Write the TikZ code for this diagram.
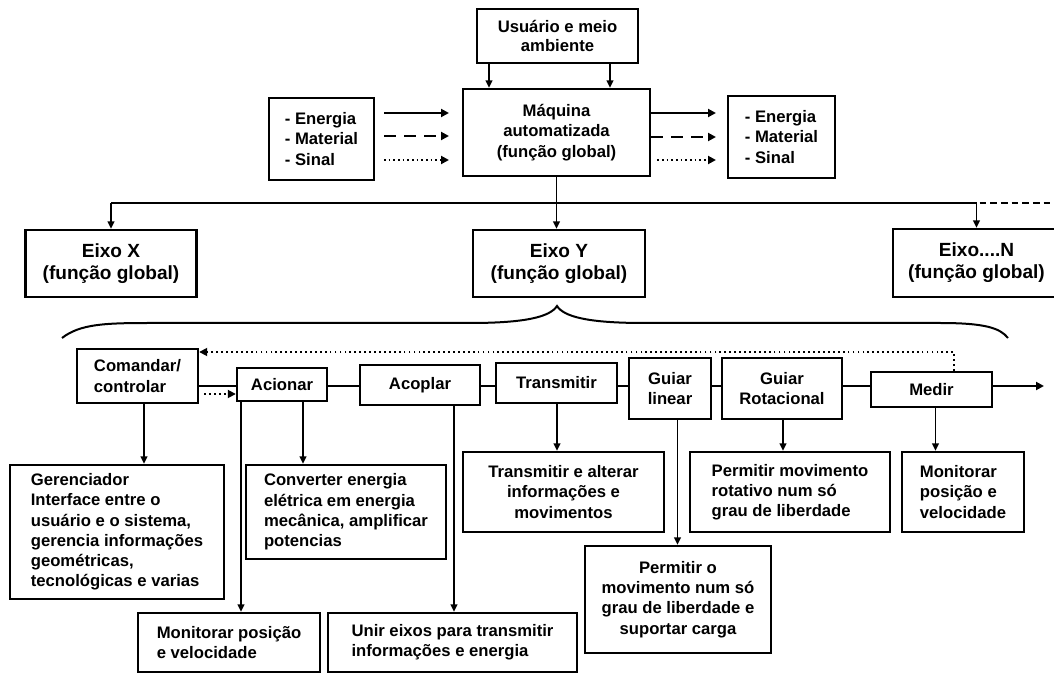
\documentclass[tikz,border=0pt]{standalone}
\usepackage{fontspec}
\setmainfont{Liberation Sans}
\usetikzlibrary{arrows.meta,calc}
\tikzset{
  box/.style={draw, line width=1.8pt, fill=white, inner sep=2pt, align=center,
    font=\bfseries\fontsize{12.5}{15.2}\selectfont},
  lbox/.style={box, align=left},
  eixbox/.style={box, font=\bfseries\fontsize{14.3}{16.5}\selectfont},
  conn/.style={line width=1.3pt},
  arr/.style={conn, -{Triangle[length=5.5pt,width=5pt]}},
  bigarr/.style={line width=1.8pt, -{Triangle[length=6pt,width=6pt]}},
  dasharr/.style={bigarr, dash pattern=on 9pt off 6pt},
  dotarr/.style={line width=1.5pt, dash pattern=on 1.3pt off 2.2pt, -{Triangle[length=6pt,width=6pt]}},
  fbdot/.style={line width=1.3pt, dash pattern=on 1.3pt off 2.4pt, -{Triangle[length=6pt,width=6pt]}},
  busdash/.style={line width=1.3pt, dash pattern=on 5pt off 3pt},
  brace/.style={line width=1.5pt}
}
\begin{document}
\begin{tikzpicture}[x=0.75pt, y=-0.75pt]
\useasboundingbox (0,0) rectangle (1054,673);
\clip (0,0) rectangle (1054,673);
\fill[white] (0,0) rectangle (1054,673);

% top level
\node[box, minimum width=161*0.75pt, minimum height=54*0.75pt, font=\bfseries\fontsize{12.5}{13.8}\selectfont] (usr) at (557.5,36) {Usuário e meio\\ambiente};
\node[box, minimum width=187*0.75pt, minimum height=87*0.75pt] (maq) at (556.5,132.5) {Máquina\\automatizada\\(função global)};
\node[lbox, minimum width=105*0.75pt, minimum height=82*0.75pt] (inL) at (321.5,139) {- Energia\\- Material\\- Sinal};
\node[lbox, minimum width=107*0.75pt, minimum height=82*0.75pt] (inR) at (781.5,137) {- Energia\\- Material\\- Sinal};

\coordinate (u1) at ($(usr.south)+(-68.5,0)$);
\coordinate (u2) at ($(usr.south)+(52.5,0)$);
\draw[arr] (u1) -- (u1 |- maq.north);
\draw[arr] (u2) -- (u2 |- maq.north);

% input arrows
\coordinate (ia1) at (384,113); \coordinate (ib1) at (449,113);
\coordinate (ia2) at (384,136); \coordinate (ib2) at (449,136);
\coordinate (ia3) at (384,160); \coordinate (ib3) at (449,160);
\draw[bigarr] (ia1) -- (ib1);
\draw[dasharr] (ia2) -- (ib2);
\draw[dotarr] (ia3) -- (ib3);
% output arrows
\coordinate (ob1) at (716,113);
\coordinate (ob2) at (716,137);
\coordinate (ob3) at (716,160);
\draw[bigarr] (ob1 -| maq.east) -- (ob1);
\draw[dasharr] (ob2 -| maq.east) -- (ob2);
\draw[dotarr] ($(ob3 -| maq.east)+(6,0)$) -- (ob3);

% axes
\node[eixbox, minimum width=171*0.75pt, minimum height=67*0.75pt] (eixX) at (111,263.5) {Eixo X\\(função global)};
\node[eixbox, minimum width=172*0.75pt, minimum height=67*0.75pt] (eixY) at (559,263.5) {Eixo Y\\(função global)};
\node[eixbox, minimum width=167*0.75pt, minimum height=68*0.75pt] (eixN) at (976.5,263) {Eixo....N\\(função global)};

\coordinate (bus) at (557,203);
\coordinate (busEnd) at (1056,203);
\draw[conn] (eixX.north |- bus) -- (eixN.north |- bus);
\draw[arr] (maq.south) -- (maq.south |- eixY.north);
\draw[arr] (eixX.north |- bus) -- (eixX.north);
\draw[arr] (eixN.north |- bus) -- (eixN.north);
\draw[busdash] ($(eixN.north |- bus)+(3,0)$) -- (busEnd);

% brace
\draw[brace] (62,338) .. controls (80,324) and (105,323) .. (150,323) -- (470,323)
  .. controls (525,323) and (550,317) .. (557,306)
  .. controls (564,317) and (589,323) .. (644,323) -- (940,323)
  .. controls (985,323) and (1000,328) .. (1008,338);

% function chain
\node[lbox, minimum width=121*0.75pt, minimum height=54*0.75pt] (com) at (137.5,376) {Comandar/\\controlar};
\node[box, minimum width=90*0.75pt, minimum height=33*0.75pt] (aci) at (282,384.5) {Acionar};
\node[box, minimum width=120*0.75pt, minimum height=40*0.75pt] (aco) at (420,385) {Acoplar};
\node[box, minimum width=121*0.75pt, minimum height=40*0.75pt] (tra) at (556.5,383) {Transmitir};
\node[box, minimum width=82*0.75pt, minimum height=61*0.75pt] (gl) at (670,388.5) {Guiar\\linear};
\node[box, minimum width=120*0.75pt, minimum height=61*0.75pt] (gr) at (782,388.5) {Guiar\\Rotacional};
\node[box, minimum width=121*0.75pt, minimum height=35*0.75pt] (med) at (931.5,389.5) {Medir};

\coordinate (ch) at (0,386);
\coordinate (ch2) at (0,394);
\coordinate (outEnd) at (1044,386);
\draw[conn] (com.east |- ch) -- (aci.west |- ch);
\draw[conn] (aci.east |- ch) -- (aco.west |- ch);
\draw[conn] (aco.east |- ch) -- (tra.west |- ch);
\draw[conn] (tra.east |- ch) -- (gl.west |- ch);
\draw[conn] (gl.east |- ch) -- (gr.west |- ch);
\draw[conn] (gr.east |- ch) -- (med.west |- ch);
\draw[bigarr, line width=1.5pt] (med.east |- ch) -- (outEnd);
\draw[fbdot] ($(com.east |- ch2)+(5,0)$) -- (aci.west |- ch2);

\coordinate (fb) at (954,352);
\draw[fbdot] (fb |- med.north) -- (fb) -- (fb -| com.east);

% descriptions
\node[lbox, minimum width=214*0.75pt, minimum height=134*0.75pt] (ger) at (117,532)
 {Gerenciador\\Interface entre o\\usuário e o sistema,\\gerencia informações\\geométricas,\\tecnológicas e varias};
\node[lbox, minimum width=200*0.75pt, minimum height=94*0.75pt] (conv) at (346,512)
 {Converter energia\\elétrica em energia\\mecânica, amplificar\\potencias};
\node[lbox, minimum width=182*0.75pt, minimum height=59*0.75pt] (mon1) at (229,642.5)
 {Monitorar posição\\e velocidade};
\node[lbox, minimum width=249*0.75pt, minimum height=59*0.75pt] (unir) at (452.5,642.5)
 {Unir eixos para transmitir\\informações e energia};
\node[box, minimum width=201*0.75pt, minimum height=80*0.75pt] (tal) at (563.5,492)
 {Transmitir e alterar\\informações e\\movimentos};
\node[box, minimum width=186*0.75pt, minimum height=107*0.75pt] (pmov) at (678,599.5)
 {Permitir o\\movimento num só\\grau de liberdade e\\suportar carga};
\node[lbox, minimum width=200*0.75pt, minimum height=80*0.75pt] (prot) at (790,492)
 {Permitir movimento\\rotativo num só\\grau de liberdade};
\node[lbox, minimum width=122*0.75pt, minimum height=80*0.75pt] (mon2) at (963,492)
 {Monitorar\\posição e\\velocidade};

\coordinate (v1) at (144,0);
\coordinate (v2) at (241,0);
\coordinate (v3) at (303,0);
\coordinate (v4) at (454,0);
\coordinate (v5) at (557,0);
\coordinate (v6) at (677.5,0);
\coordinate (v7) at (783,0);
\coordinate (v8) at (935.5,0);
\draw[arr] (com.south -| v1) -- (ger.north -| v1);
\draw[arr] (aci.south -| v2) -- (mon1.north -| v2);
\draw[arr] (aci.south -| v3) -- (conv.north -| v3);
\draw[arr] (aco.south -| v4) -- (unir.north -| v4);
\draw[arr] (tra.south -| v5) -- (tal.north -| v5);
\draw[arr] (gl.south -| v6) -- (pmov.north -| v6);
\draw[arr] (gr.south -| v7) -- (prot.north -| v7);
\draw[arr] (med.south -| v8) -- (mon2.north -| v8);
\end{tikzpicture}
\end{document}
